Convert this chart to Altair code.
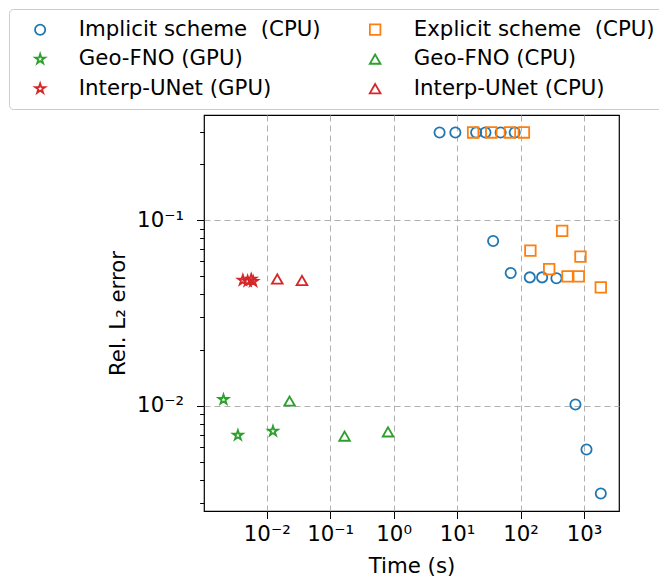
import altair as alt
import pandas as pd

# legend order (filled column by column): left column, then right column
series_names = ["Implicit scheme \u00a0(CPU)", "Geo-FNO (GPU)", "Interp-UNet (GPU)",
                "Explicit scheme \u00a0(CPU)", "Geo-FNO (CPU)", "Interp-UNet (CPU)"]

implicit_time = [5.3, 9.4, 20, 28, 48.6, 81, 37, 70, 140, 219, 368, 734, 1096, 1842]
implicit_err = [0.297, 0.297, 0.297, 0.297, 0.297, 0.297, 0.0772, 0.0519, 0.0492, 0.0492, 0.0487,
                0.01017, 0.00582, 0.00337]

explicit_time = [17.9, 34.6, 68, 113, 453, 143, 881, 283, 550, 828, 1841]
explicit_err = [0.297, 0.297, 0.297, 0.297, 0.0877, 0.0686, 0.0637, 0.0545, 0.0498, 0.0498, 0.0435]

geofno_gpu_time = [0.00208, 0.00351, 0.01253]
geofno_gpu_err = [0.0108, 0.00693, 0.0073]

geofno_cpu_time = [0.0229, 0.1687, 0.816]
geofno_cpu_err = [0.0106, 0.00686, 0.00723]

unet_gpu_time = [0.0042, 0.0050, 0.0057, 0.0061]
unet_gpu_err = [0.0475, 0.0470, 0.0480, 0.0468]

unet_cpu_time = [0.01465, 0.0359]
unet_cpu_err = [0.0482, 0.0473]

x_ticks = [0.01, 0.1, 1, 10, 100, 1000]
y_ticks = [0.003, 0.004, 0.005, 0.006, 0.007, 0.008, 0.009, 0.01,
           0.02, 0.03, 0.04, 0.05, 0.06, 0.07, 0.08, 0.09, 0.1, 0.2, 0.3]

STAR = ("M0,-1L-0.2245,-0.309L-0.951,-0.309L-0.3633,0.118L-0.5878,0.809L0,0.382"
        "L0.5878,0.809L0.3633,0.118L0.951,-0.309L0.2245,-0.309Z")
colors = ["#1f77b4", "#2ca02c", "#d62728", "#ff7f0e", "#2ca02c", "#d62728"]
shapes = ["circle", STAR, STAR, "square", "triangle-up", "triangle-up"]
sizes = [105, 115, 115, 135, 125, 125]

rows = []
for name, xs, ys in zip(series_names,
                        [implicit_time, geofno_gpu_time, unet_gpu_time, explicit_time, geofno_cpu_time, unet_cpu_time],
                        [implicit_err, geofno_gpu_err, unet_gpu_err, explicit_err, geofno_cpu_err, unet_cpu_err]):
    for xv, yv in zip(xs, ys):
        rows.append({"series": name, "time": xv, "err": yv})
df = pd.DataFrame(rows)

L = "log(datum.value)/LN10"
decade = f"abs({L} - round({L})) < 0.001"
sup = (f"'10' + replace(replace(replace(replace(replace('' + round({L}), '-', '\u207b'), "
       f"'0', '\u2070'), '1', '\u00b9'), '2', '\u00b2'), '3', '\u00b3')")
label_expr = f"{decade} ? {sup} : ''"

FS = 21.3

legend = alt.Legend(
    title=None, orient="none", legendX=-195, legendY=-106, columns=2,
    fillColor="white", strokeColor="#cccccc", cornerRadius=4, padding=10,
    labelFontSize=FS, labelFont="DejaVu Sans", labelColor="black", labelLimit=500,
    symbolStrokeWidth=1.8, symbolOffset=10.5, labelOffset=28, columnPadding=33, rowPadding=7.5,
)

chart = alt.Chart(df).mark_point(filled=False, strokeWidth=1.8, opacity=1).encode(
    x=alt.X("time:Q", title="Time (s)",
            scale=alt.Scale(type="log", domain=[0.001026, 3565], nice=False),
            axis=alt.Axis(values=x_ticks, labelExpr=label_expr, tickSize=7.5, grid=True,
                          labelPadding=5, titlePadding=11)),
    y=alt.Y("err:Q", title="Rel. L\u2082 error",
            scale=alt.Scale(type="log", domain=[0.00271, 0.369], nice=False),
            axis=alt.Axis(values=y_ticks, labelExpr=label_expr, labelPadding=13, titlePadding=8,
                          tickSize={"condition": {"test": decade, "value": 7.5}, "value": 4.4},
                          gridOpacity={"condition": {"test": decade, "value": 1}, "value": 0})),
    color=alt.Color("series:N", scale=alt.Scale(domain=series_names, range=colors), legend=legend),
    shape=alt.Shape("series:N", scale=alt.Scale(domain=series_names, range=shapes), legend=legend),
    size=alt.Size("series:N", scale=alt.Scale(domain=series_names, range=sizes), legend=legend),
).properties(
    width=415, height=396,
    padding={"left": 0, "top": 0, "right": -7, "bottom": 0},
).configure_view(
    stroke="black", strokeWidth=1.2
).configure_axis(
    domain=False, grid=True, gridColor="#b0b0b0", gridDash=[6, 4], gridWidth=1,
    labelFont="DejaVu Sans", labelFontSize=FS, labelColor="black",
    titleFont="DejaVu Sans", titleFontSize=FS, titleFontWeight="normal", titleColor="black",
    tickColor="black", tickWidth=1,
)

chart.save("out.html", embed_options={"renderer": "svg", "actions": False})
